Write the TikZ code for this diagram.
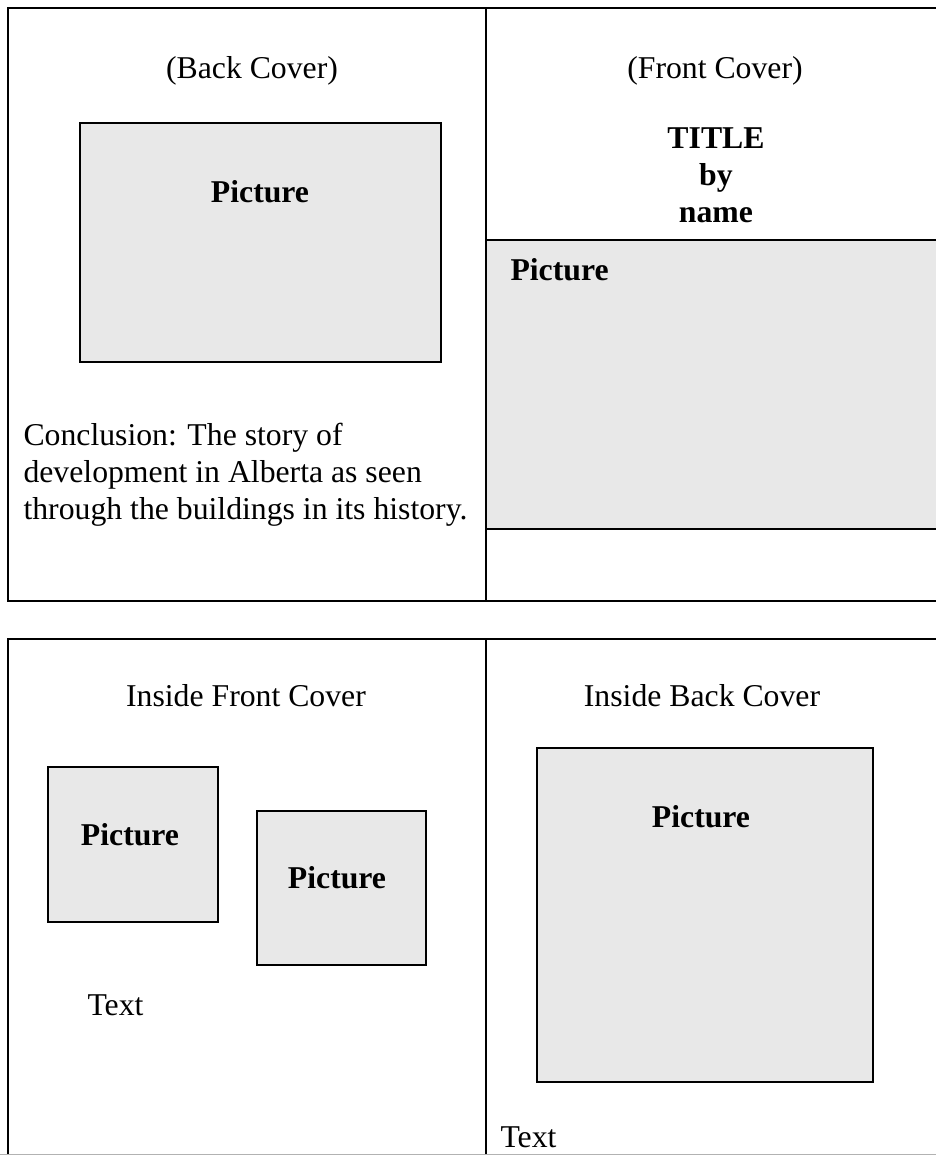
\documentclass[tikz,border=0pt]{standalone}
\usepackage{fontspec}
\setmainfont{Liberation Serif}
\usepackage{tikz}
\usetikzlibrary{positioning,backgrounds}
\definecolor{picgray}{RGB}{232,232,232}
\tikzset{frameline/.style={line width=0.95pt, draw=black}, picbox/.style={draw=black, line width=0.95pt, fill=picgray}, covertext/.style={inner sep=0pt, font=\fontsize{11.9}{13.8}\selectfont}, pictext/.style={covertext, font=\fontsize{11.9}{13.8}\selectfont\bfseries}}

\begin{document}
\begin{tikzpicture}[x=0.375pt, y=-0.375pt]
\useasboundingbox (0,0) rectangle (936,1155);
\clip (0,0) rectangle (936,1155);
% outside of the book (top table)
\draw[picbox] (486,240) rectangle (960,529);
\draw[frameline] (960,8) -- (8,8) -- (8,601) -- (960,601);
\draw[frameline] (486,8) -- (486,601);
\draw[picbox] (80,123) rectangle (441,362);
\node[covertext, anchor=base] (backcover) at (252,78) {(Back Cover)};
\node[covertext, anchor=base] (frontcover) at (715,78) {(Front Cover)};
\node[pictext, anchor=base, align=center] (title) at (716,222) {TITLE\\by\\name};
\node[pictext, anchor=base] (backpic) at (260,202) {Picture};
\node[pictext, anchor=base west] (frontpic) at (510,280) {Picture};
\node[covertext, anchor=base west, align=left] (conclusion) at (23,519) {Conclusion: The story of\\development in Alberta as seen\\through the buildings in its history.};
% inside of the book (bottom table)
\draw[frameline] (960,639) -- (8,639) -- (8,1160);
\draw[frameline] (486,639) -- (486,1160);
\draw[black!30, line width=0.3pt] (0,1154.3) -- (936,1154.3);
\draw[picbox] (48,767) rectangle (218,922);
\draw[picbox] (257,811) rectangle (426,965);
\draw[picbox] (537,748) rectangle (873,1082);
\node[covertext, anchor=base] (insidefront) at (246,706) {Inside Front Cover};
\node[covertext, anchor=base] (insideback) at (702,706) {Inside Back Cover};
\node[pictext, anchor=base] (smallpic) at (130,845) {Picture};
\node[pictext, anchor=base] (midpic) at (337,888) {Picture};
\node[pictext, anchor=base] (bigpic) at (701,827) {Picture};
\node[covertext, anchor=base west] (fronttext) at (87,1015) {Text};
\node[covertext, anchor=base west] (backtext) at (500,1147) {Text};
\end{tikzpicture}
\end{document}
